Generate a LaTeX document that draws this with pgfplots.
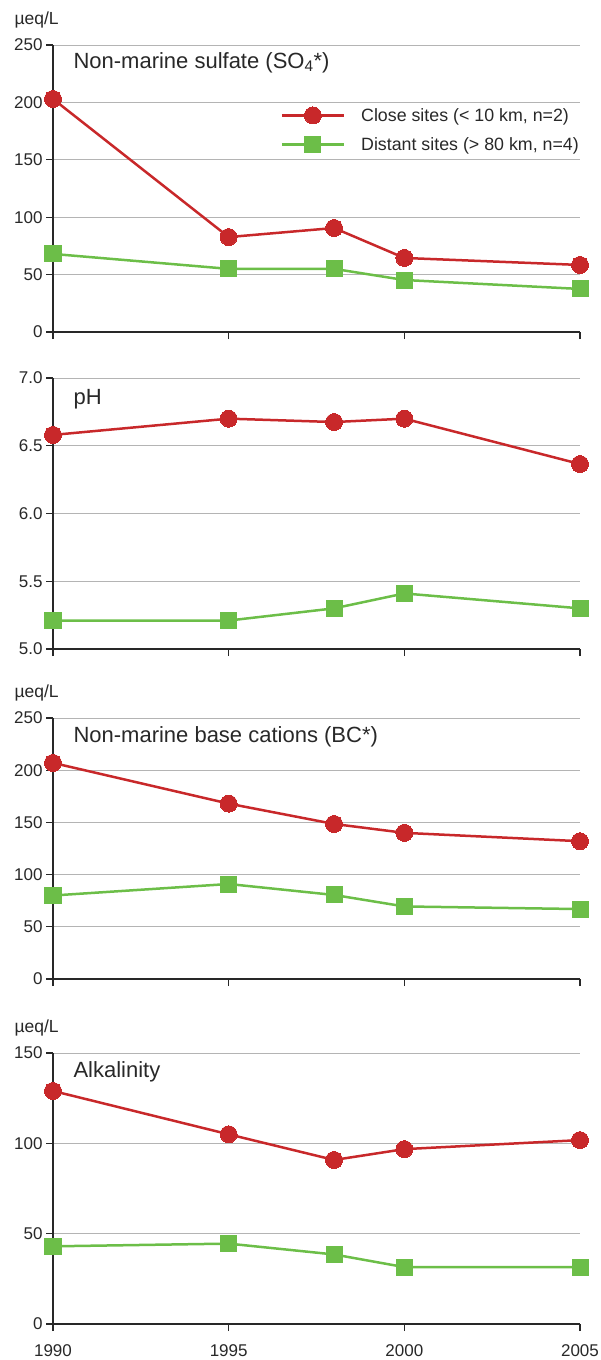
\documentclass[border=0pt]{standalone}
\usepackage{pgfplots}
\pgfplotsset{compat=1.18}
\usepackage{fontspec}
\setmainfont{Liberation Sans}
\definecolor{cred}{RGB}{200,40,42}
\definecolor{cgreen}{RGB}{108,190,72}
\definecolor{cgrid}{RGB}{180,180,180}
\definecolor{caxis}{RGB}{40,40,40}
\pgfplotsset{
  panel/.style={
    scale only axis, width=527pt,
    xmin=1990, xmax=2005,
    xtick={1990,1995,2000,2005},
    axis x line*=bottom, axis y line*=left,
    axis line style={-, caxis, line width=1.1pt},
    tick style={caxis, line width=1.1pt},
    tick align=outside, major tick length=7pt,
    ymajorgrids, grid style={cgrid, line width=0.9pt},
    /pgf/number format/assume math mode=true,
    /pgf/number format/1000 sep={},
    tick label style={font=\fontsize{17pt}{20pt}\selectfont, text=caxis},
    xticklabel style={yshift=-10pt},
    xticklabels={},
    clip=false,
    every axis plot/.append style={line width=2.5pt},
    legend image code/.code={\draw[mark repeat=2,mark phase=2] plot coordinates {(0pt,0pt) (31pt,0pt) (62pt,0pt)};},
  },
  redline/.style={cred, mark=*, mark size=8.5pt, mark options={solid, fill=cred, draw=cred, line width=0pt}},
  greenline/.style={cgreen, mark=square*, mark size=8pt, mark options={solid, fill=cgreen, draw=cgreen, line width=0pt}},
}
\newcommand{\ttl}[2]{\node[anchor=base west, font=\fontsize{22pt}{26pt}\selectfont, text=caxis] at (rel axis cs:0,1) [xshift=17pt, yshift=-#1pt] {#2};}
\newcommand{\unit}{\node[anchor=base west, font=\fontsize{17.5pt}{20pt}\selectfont, text=caxis] at (rel axis cs:0,1) [xshift=-42pt, yshift=21pt] {µeq/L};}
\begin{document}
\begin{tikzpicture}
\useasboundingbox (0pt,0pt) rectangle (601pt,-1360pt);
% Panel 1
\begin{axis}[panel, at={(53pt,-332pt)}, anchor=south west, height=287pt,
  ymin=0, ymax=250, ytick={0,50,100,150,200,250},
  legend style={draw=none, fill=none, at={(rel axis cs:1,1)}, anchor=north east, xshift=1pt, yshift=-61pt,
    font=\fontsize{17.8pt}{20pt}\selectfont, text=caxis, row sep=10.5pt, cells={anchor=west}, inner sep=0pt,
    /tikz/every odd column/.append style={column sep=14pt}},
]
\addplot[redline] coordinates {(1990,203) (1995,82.7) (1998,90.6) (2000,64.5) (2005,58.4)};
\addlegendentry{Close sites (< 10 km, n=2)}
\addplot[greenline] coordinates {(1990,68) (1995,55) (1998,55) (2000,45.3) (2005,37.5)};
\addlegendentry{Distant sites (> 80 km, n=4)}
\ttl{23}{Non-marine sulfate (SO\textsubscript{4}*)}
\unit
\end{axis}
% Panel 2
\begin{axis}[panel, at={(53pt,-649pt)}, anchor=south west, height=271pt,
  ymin=5, ymax=7, ytick={5,5.5,6,6.5,7},
  yticklabel style={/pgf/number format/.cd, fixed, fixed zerofill, precision=1},
]
\addplot[redline] coordinates {(1990,6.58) (1995,6.70) (1998,6.675) (2000,6.70) (2005,6.365)};
\addplot[greenline] coordinates {(1990,5.21) (1995,5.21) (1998,5.30) (2000,5.41) (2005,5.30)};
\ttl{26}{pH}
\end{axis}
% Panel 3
\begin{axis}[panel, at={(53pt,-979pt)}, anchor=south west, height=261pt,
  ymin=0, ymax=250, ytick={0,50,100,150,200,250},
]
\addplot[redline] coordinates {(1990,207) (1995,168) (1998,148.5) (2000,140) (2005,132)};
\addplot[greenline] coordinates {(1990,80) (1995,91) (1998,80.5) (2000,69.5) (2005,67)};
\ttl{24}{Non-marine base cations (BC*)}
\unit
\end{axis}
% Panel 4
\begin{axis}[panel, at={(53pt,-1324pt)}, anchor=south west, height=271pt,
  ymin=0, ymax=150, ytick={0,50,100,150},
  xticklabels={1990,1995,2000,2005},
]
\addplot[redline] coordinates {(1990,129) (1995,105) (1998,90.8) (2000,96.8) (2005,101.8)};
\addplot[greenline] coordinates {(1990,43) (1995,44.5) (1998,38.5) (2000,31.5) (2005,31.5)};
\ttl{24}{Alkalinity}
\unit
\end{axis}
\end{tikzpicture}
\end{document}
